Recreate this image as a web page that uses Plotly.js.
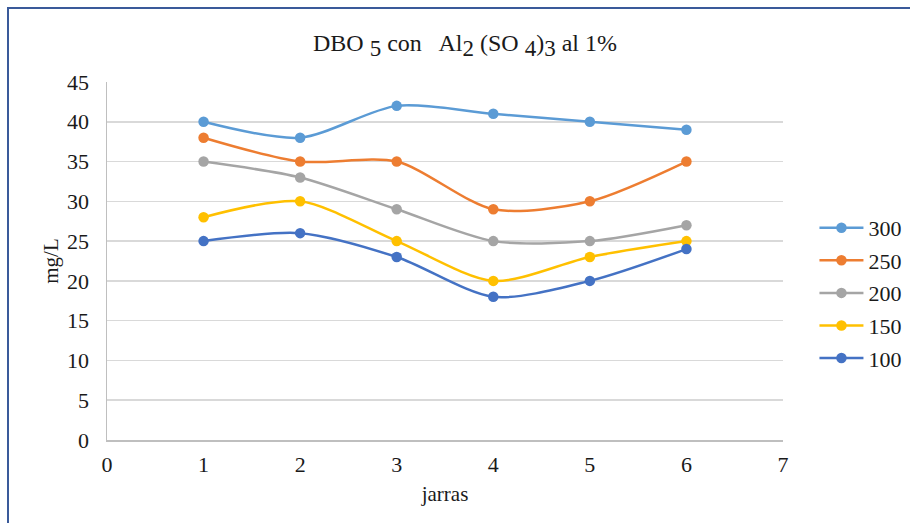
<!DOCTYPE html>
<html>
<head>
<meta charset="utf-8">
<script src="https://cdn.plot.ly/plotly-3.0.1.min.js"></script>
<style>
  html, body { margin: 0; padding: 0; background: #fff; }
  #wrap { position: relative; width: 910px; height: 523px; overflow: hidden; }
  #chart { width: 910px; height: 523px; }
  .bline { position: absolute; background: #3a5a9a; }
</style>
</head>
<body>
<div id="wrap">
  <div id="chart"></div>
  <div class="bline" style="left:7px; top:7px; width:903px; height:2px;"></div>
  <div class="bline" style="left:7px; top:7px; width:2px; height:516px;"></div>
</div>
<script>
const jarras = [1, 2, 3, 4, 5, 6];
const seriesNames = ['300', '250', '200', '150', '100'];
const s300 = [40, 38, 42, 41, 40, 39];
const s250 = [38, 35, 35, 29, 30, 35];
const s200 = [35, 33, 29, 25, 25, 27];
const s150 = [28, 30, 25, 20, 23, 25];
const s100 = [25, 26, 23, 18, 20, 24];
const xTicks = [0, 1, 2, 3, 4, 5, 6, 7];
const yTicks = [0, 5, 10, 15, 20, 25, 30, 35, 40, 45];

const values = [s300, s250, s200, s150, s100];
const colors = ['#5B9BD5', '#ED7D31', '#A5A5A5', '#FFC000', '#4472C4'];
const serif = '"Liberation Serif", "Times New Roman", serif';

const traces = values.map((v, i) => ({
  x: jarras,
  y: v,
  name: seriesNames[i],
  legendgroup: 'g' + i,
  type: 'scatter',
  mode: 'lines+markers',
  line: { color: colors[i], width: 2.5, shape: 'spline', smoothing: 0.8 },
  marker: { color: colors[i], size: 10.5 }
}));

const big = s => '<span style="font-size:23px">' + s + '</span>';

const layout = {
  width: 910,
  height: 523,
  margin: { l: 107, r: 127, t: 82, b: 83, autoexpand: false },
  paper_bgcolor: '#fff',
  plot_bgcolor: '#fff',
  font: { family: serif, color: '#1a1a1a', size: 22 },
  title: {
    text: 'DBO <sub>' + big('5') + '</sub> con   Al<sub>' + big('2') + '</sub> (SO <sub>' + big('4') + '</sub>)<sub>' + big('3') + '</sub> al 1%',
    font: { family: serif, size: 24, color: '#1a1a1a' },
    x: 0.511, xanchor: 'center', y: 0.918, yanchor: 'middle'
  },
  xaxis: {
    range: [0, 7],
    tickvals: xTicks,
    ticktext: xTicks.map(String),
    showgrid: false,
    zeroline: false,
    showline: true,
    linecolor: '#bfbfbf',
    linewidth: 1.5,
    ticks: '',
    ticklabelstandoff: 4,
    tickfont: { family: serif, size: 22 },
    title: { text: 'jarras', font: { family: serif, size: 21 }, standoff: 10 },
    fixedrange: true
  },
  yaxis: {
    range: [0, 45],
    tickvals: yTicks,
    ticktext: yTicks.map(String),
    showgrid: true,
    gridcolor: '#d9d9d9',
    gridwidth: 1.5,
    zeroline: false,
    showline: true,
    linecolor: '#bfbfbf',
    linewidth: 1.5,
    ticks: '',
    ticklen: 0,
    ticklabelstandoff: 12,
    tickfont: { family: serif, size: 22 },
    title: { text: 'mg/L', font: { family: serif, size: 21 }, standoff: 2 },
    fixedrange: true
  },
  showlegend: true,
  legend: {
    xref: 'container', yref: 'container',
    x: 0.895, xanchor: 'left',
    y: 0.44, yanchor: 'middle',
    font: { family: serif, size: 22, color: '#1a1a1a' },
    itemwidth: 44,
    tracegroupgap: 1,
    bgcolor: 'rgba(0,0,0,0)'
  }
};

Plotly.newPlot('chart', traces, layout, { displayModeBar: false, staticPlot: true });
</script>
</body>
</html>
